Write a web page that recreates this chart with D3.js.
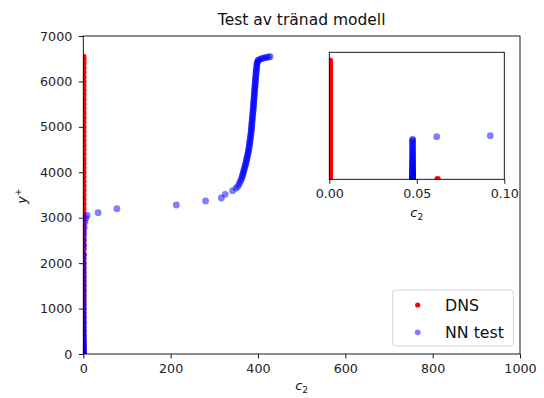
<!DOCTYPE html>
<html>
<head>
<meta charset="utf-8">
<script src="https://cdn.jsdelivr.net/npm/d3@7"></script>
<style>
  html, body { margin: 0; padding: 0; background: #fff; }
  svg { display: block; font-family: "DejaVu Sans", sans-serif; }
  .tick text { fill: #222; }
</style>
</head>
<body>
<svg id="chart" width="544" height="398"></svg>
<script>
// DNS reference profile: [c2, y+]
const dnsPoints = [
  [0.0003, 0], [0.0003, 30], [0.0003, 80], [0.0003, 150], [0.0003, 230], [0.0003, 320],
  [0.0003, 410], [0.0003, 500], [0.0003, 600], [0.0003, 700], [0.0003, 800], [0.0003, 900],
  [0.0003, 1000], [0.0003, 1100], [0.0003, 1200], [0.0003, 1300], [0.0003, 1400], [0.0003, 1500],
  [0.0003, 1600], [0.0003, 1700], [0.0003, 1800], [0.0003, 1900], [0.0003, 2000], [0.0003, 2100],
  [0.0003, 2200], [0.0003, 2300], [0.0003, 2400], [0.0003, 2500], [0.0003, 2600], [0.0003, 2700],
  [0.0003, 2800], [0.0003, 2900], [0.0003, 3000], [0.0003, 3100], [0.0003, 3200], [0.0003, 3300],
  [0.0003, 3400], [0.0003, 3500], [0.0003, 3600], [0.0003, 3700], [0.0003, 3800], [0.0003, 3900],
  [0.0003, 4000], [0.0003, 4100], [0.0003, 4200], [0.0003, 4300], [0.0003, 4400], [0.0003, 4500],
  [0.0003, 4600], [0.0003, 4700], [0.0003, 4800], [0.0003, 4900], [0.0003, 5000], [0.0003, 5100],
  [0.0003, 5200], [0.0003, 5300], [0.0003, 5400], [0.0003, 5500], [0.0003, 5600], [0.0003, 5700],
  [0.0003, 5800], [0.0003, 5900], [0.0003, 6000], [0.0003, 6100], [0.0003, 6200], [0.0003, 6300],
  [0.0003, 6400], [0.0003, 6480], [0.0003, 6540],
  [0.0619, 0]
];

// Network prediction on the test set, near-wall column: [c2, y+]
const nnWallPoints = [
  [0.0476, 0], [0.0476, 4], [0.0476, 10], [0.0476, 18], [0.0476, 28], [0.0476, 40],
  [0.0476, 54], [0.0476, 70], [0.0476, 88], [0.0476, 108], [0.0476, 130], [0.0476, 154],
  [0.0476, 180], [0.0476, 208], [0.0476, 238], [0.0476, 270], [0.0476, 304], [0.0476, 340],
  [0.0476, 378], [0.0476, 418], [0.0476, 460], [0.0476, 504], [0.0476, 550], [0.0476, 598],
  [0.0476, 648], [0.0476, 700], [0.0476, 754], [0.0476, 810], [0.0476, 868], [0.0476, 928],
  [0.0476, 990], [0.0476, 1054], [0.0476, 1120], [0.0476, 1188], [0.0476, 1258], [0.0476, 1330],
  [0.0476, 1404], [0.0476, 1480], [0.0476, 1558], [0.0476, 1638], [0.0476, 1720], [0.0476, 1804],
  [0.0476, 1890], [0.0476, 1978], [0.0476, 2068], [0.0476, 2160], [0.0476, 2195]
];

// Network prediction, outer region: [c2, y+]
const nnOuterPoints = [
  [0.0614, 2348], [0.092, 2403], [0.4, 2520], [1.1, 2650], [2.2, 2780], [3.6, 2900],
  [5.5, 2990], [9, 3050], [34, 3110], [77, 3200], [213, 3280], [280, 3368], [316, 3434],
  [325, 3515], [342, 3596], [350, 3650], [354, 3690], [357, 3740], [359, 3790], [361, 3830],
  [363, 3870], [364, 3910], [365, 3945], [366, 3980], [367, 4015], [368, 4050], [369, 4085],
  [370, 4120], [371, 4155], [372, 4190], [373, 4225], [373.5, 4260], [374.5, 4295], [375, 4330],
  [376, 4365], [377, 4400], [377.5, 4435], [378, 4470], [379, 4505], [379.5, 4540], [380, 4575],
  [380.5, 4610], [381, 4645], [381.5, 4680], [382, 4715], [382.5, 4750], [383, 4785], [383.5, 4820],
  [384, 4855], [384.3, 4890], [384.7, 4925], [385, 4960], [385.3, 4995], [385.7, 5030], [386, 5065],
  [386.3, 5100], [386.7, 5135], [387, 5170], [387.3, 5205], [387.6, 5240], [388, 5275], [388.3, 5310],
  [388.6, 5345], [389, 5380], [389.2, 5415], [389.5, 5450], [389.8, 5485], [390, 5520], [390.3, 5555],
  [390.6, 5590], [390.9, 5625], [391.2, 5660], [391.5, 5695], [391.8, 5730], [392, 5765], [392.3, 5800],
  [392.6, 5835], [392.9, 5870], [393.2, 5905], [393.5, 5940], [393.8, 5975], [394, 6010], [394.3, 6045],
  [394.6, 6080], [395, 6115], [395.3, 6150], [395.6, 6185], [396, 6220], [396.3, 6255], [396.7, 6290],
  [397, 6325], [397.5, 6360], [398, 6395], [398.5, 6425], [399.5, 6450], [401, 6470], [404, 6485],
  [408, 6500], [412, 6512], [416, 6522], [420, 6530], [424, 6538], [428, 6545]
];

const mainXTicks = [0, 200, 400, 600, 800, 1000];
const mainYTicks = [0, 1000, 2000, 3000, 4000, 5000, 6000, 7000];
const insetXTicks = [0, 0.05, 0.1];
const seriesNames = ["DNS", "NN test"];
const seriesColors = ["#ff0000", "#0000ff"];

const nnPoints = nnWallPoints.concat(nnOuterPoints);

const svg = d3.select("#chart");
const FONT = "DejaVu Sans, sans-serif";

// ---- main axes ----
const M = { left: 83.3, right: 520, top: 36, bottom: 354 };
const x = d3.scaleLinear().domain([0, 1000]).range([M.left, M.right]);
const y = d3.scaleLinear().domain([0, 7000]).range([M.bottom, M.top]);

const defs = svg.append("defs");
defs.append("clipPath").attr("id", "clip-main").append("rect")
  .attr("x", M.left).attr("y", M.top).attr("width", M.right - M.left).attr("height", M.bottom - M.top);

const mainPlot = svg.append("g").attr("clip-path", "url(#clip-main)");
mainPlot.selectAll("circle.dns").data(dnsPoints).join("circle")
  .attr("class", "dns").attr("cx", d => x(d[0])).attr("cy", d => y(d[1]))
  .attr("r", 3.2).attr("fill", seriesColors[0]);
mainPlot.selectAll("circle.nn").data(nnPoints).join("circle")
  .attr("class", "nn").attr("cx", d => x(d[0])).attr("cy", d => y(d[1]))
  .attr("r", 3.4).attr("fill", seriesColors[1]).attr("fill-opacity", 0.5);

const xAxis = svg.append("g").attr("transform", `translate(0,${M.bottom})`)
  .call(d3.axisBottom(x).tickValues(mainXTicks).tickFormat(d3.format("d"))
    .tickSize(4.5).tickSizeOuter(0).tickPadding(5));
const yAxis = svg.append("g").attr("transform", `translate(${M.left},0)`)
  .call(d3.axisLeft(y).tickValues(mainYTicks).tickFormat(d3.format("d"))
    .tickSize(4.5).tickSizeOuter(0).tickPadding(6.5));
[xAxis, yAxis].forEach(g => {
  g.select(".domain").remove();
  g.selectAll("text").attr("font-size", 12.7).attr("font-family", FONT);
  g.selectAll("line").attr("stroke", "#000").attr("stroke-width", 0.9);
});

svg.append("rect").attr("x", M.left).attr("y", M.top)
  .attr("width", M.right - M.left).attr("height", M.bottom - M.top)
  .attr("fill", "none").attr("stroke", "#000").attr("stroke-width", 0.9);

// title
svg.append("text").attr("x", (M.left + M.right) / 2).attr("y", 25)
  .attr("text-anchor", "middle").attr("font-size", 15.5).attr("font-family", FONT)
  .attr("fill", "#111").text("Test av tränad modell");

// x label c2
const xl = svg.append("text").attr("x", (M.left + M.right) / 2).attr("y", 389.5)
  .attr("text-anchor", "middle").attr("font-size", 13).attr("font-family", FONT).attr("fill", "#111");
xl.append("tspan").attr("font-style", "italic").text("c");
xl.append("tspan").attr("font-size", 9).attr("dy", 3).text("2");

// y label y+
const yl = svg.append("text").attr("transform", "translate(26,196) rotate(-90)")
  .attr("text-anchor", "middle").attr("font-size", 13).attr("font-family", FONT).attr("fill", "#111");
yl.append("tspan").attr("font-style", "italic").text("y");
yl.append("tspan").attr("font-size", 9).attr("dy", -5).text("+");

// ---- inset axes ----
const I = { left: 329.3, right: 504.3, top: 52.3, bottom: 179.3 };
const xi = d3.scaleLinear().domain([0, 0.1]).range([I.left, I.right]);
const yi = d3.scaleLinear().domain([0, 7000]).range([I.bottom, I.top]);

svg.append("rect").attr("x", I.left).attr("y", I.top)
  .attr("width", I.right - I.left).attr("height", I.bottom - I.top).attr("fill", "#fff");
defs.append("clipPath").attr("id", "clip-inset").append("rect")
  .attr("x", I.left).attr("y", I.top).attr("width", I.right - I.left).attr("height", I.bottom - I.top);

const insetPlot = svg.append("g").attr("clip-path", "url(#clip-inset)");
insetPlot.selectAll("circle.dns").data(dnsPoints).join("circle")
  .attr("class", "dns").attr("cx", d => xi(d[0])).attr("cy", d => yi(d[1]))
  .attr("r", 3.2).attr("fill", seriesColors[0]);
insetPlot.selectAll("circle.nn").data(nnPoints).join("circle")
  .attr("class", "nn").attr("cx", d => xi(d[0])).attr("cy", d => yi(d[1]))
  .attr("r", 3.4).attr("fill", seriesColors[1]).attr("fill-opacity", 0.5);

const xiAxis = svg.append("g").attr("transform", `translate(0,${I.bottom})`)
  .call(d3.axisBottom(xi).tickValues(insetXTicks).tickFormat(d3.format(".2f"))
    .tickSize(4.5).tickSizeOuter(0).tickPadding(5));
xiAxis.select(".domain").remove();
xiAxis.selectAll("text").attr("font-size", 12.7).attr("font-family", FONT);
xiAxis.selectAll("line").attr("stroke", "#000").attr("stroke-width", 0.9);

svg.append("rect").attr("x", I.left).attr("y", I.top)
  .attr("width", I.right - I.left).attr("height", I.bottom - I.top)
  .attr("fill", "none").attr("stroke", "#000").attr("stroke-width", 0.9);

const xil = svg.append("text").attr("x", (I.left + I.right) / 2).attr("y", 216.5)
  .attr("text-anchor", "middle").attr("font-size", 13).attr("font-family", FONT).attr("fill", "#111");
xil.append("tspan").attr("font-style", "italic").text("c");
xil.append("tspan").attr("font-size", 9).attr("dy", 3).text("2");

// ---- legend ----
const L = svg.append("g").attr("transform", "translate(392.7,290)");
L.append("rect").attr("width", 120.6).attr("height", 56).attr("rx", 3)
  .attr("fill", "#fff").attr("fill-opacity", 0.8).attr("stroke", "#d6d6d6").attr("stroke-width", 1);
seriesNames.forEach((name, i) => {
  const cy = 15 + i * 27.3;
  L.append("circle").attr("cx", 25).attr("cy", cy).attr("r", i === 0 ? 2.6 : 2.9)
    .attr("fill", seriesColors[i]).attr("fill-opacity", i === 0 ? 1 : 0.5);
  L.append("text").attr("x", 52.3).attr("y", cy + 5.5)
    .attr("font-size", 15.8).attr("font-family", FONT).attr("fill", "#111").text(name);
});
</script>
</body>
</html>
